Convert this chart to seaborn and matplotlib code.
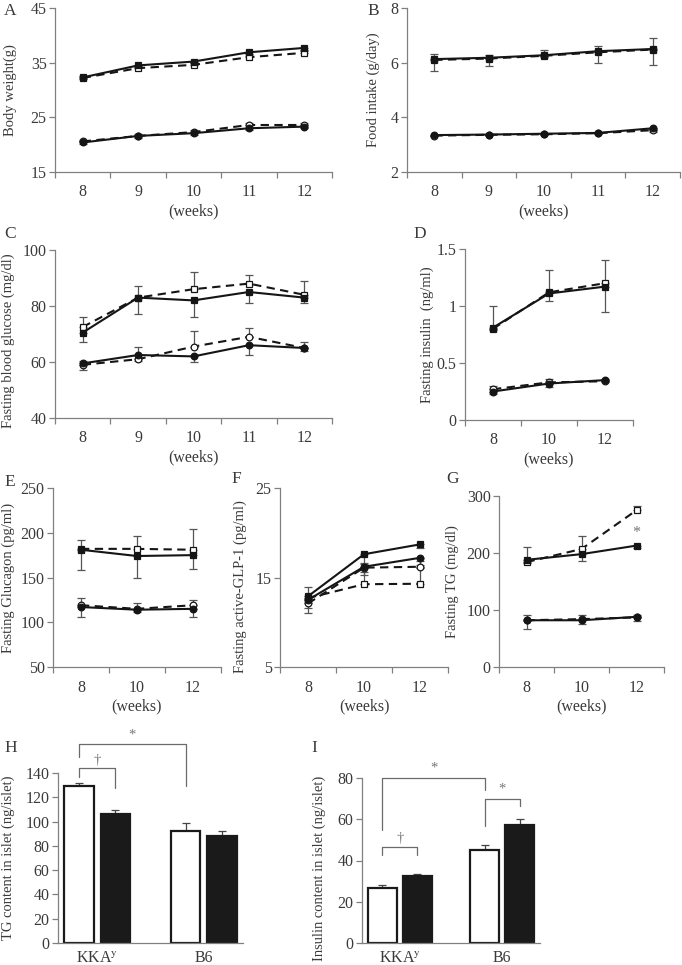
import numpy as np
import pandas as pd
import matplotlib
matplotlib.use('Agg')
import matplotlib.pyplot as plt
from matplotlib.container import BarContainer
import seaborn as sns

# ---- data ----
weeks5 = [8, 9, 10, 11, 12]
weeks3 = [8, 10, 12]

# A body weight (g)
bw_sq_open = [32.2, 34.0, 34.6, 36.0, 36.8]
bw_sq_fill = [32.3, 34.5, 35.2, 36.9, 37.7]
bw_ci_open = [20.6, 21.6, 22.3, 23.6, 23.6]
bw_ci_fill = [20.4, 21.6, 22.1, 23.0, 23.3]
bw_err = [0.3, 0.3, 0.3, 0.3, 0.3]

# B food intake (g/day)
fi_sq_open = [6.10, 6.15, 6.25, 6.38, 6.48]
fi_sq_fill = [6.13, 6.18, 6.27, 6.42, 6.50]
fi_ci_open = [3.33, 3.36, 3.38, 3.42, 3.53]
fi_ci_fill = [3.35, 3.37, 3.40, 3.43, 3.60]
fi_sq_open_err = [0.22, 0.12, 0.2, 0.22, 0.42]
fi_sq_fill_err = [0.42, 0.3, 0.08, 0.45, 0.6]
fi_ci_open_err = [0.03, 0.03, 0.03, 0.03, 0.03]
fi_ci_fill_err = [0.03, 0.03, 0.03, 0.03, 0.15]

# C fasting blood glucose (mg/dl)
bg_sq_open = [72.5, 83, 86, 88, 84]
bg_sq_fill = [70.5, 83, 82, 85, 83]
bg_ci_open = [59, 61, 65.5, 69, 65]
bg_ci_fill = [59.5, 62.5, 62, 66, 65]
bg_sq_open_err = [3.5, 4, 6, 3, 4.8]
bg_sq_fill_err = [3.5, 6, 6, 4, 2]
bg_ci_open_err = [1.5, 4.5, 5.5, 3.2, 2]
bg_ci_fill_err = [2.5, 2, 2, 3.5, 1]

# D fasting insulin (ng/ml)
ins_sq_open = [0.80, 1.12, 1.20]
ins_sq_fill = [0.81, 1.11, 1.17]
ins_ci_open = [0.27, 0.33, 0.34]
ins_ci_fill = [0.25, 0.32, 0.35]
ins_sq_open_err = [0.2, 0.2, 0.2]
ins_sq_fill_err = [0.02, 0.07, 0.22]
ins_ci_open_err = [0.03, 0.03, 0.02]
ins_ci_fill_err = [0.02, 0.03, 0.02]

# E fasting glucagon (pg/ml)
gcg_sq_open = [182, 182, 181]
gcg_sq_fill = [181, 174, 175]
gcg_ci_open = [119, 115, 119]
gcg_ci_fill = [117, 114, 115]
gcg_sq_open_err = [10, 14, 23]
gcg_sq_fill_err = [23, 24, 15]
gcg_ci_open_err = [8, 7, 6]
gcg_ci_fill_err = [11, 2, 9]

# F fasting active GLP-1 (pg/ml)
glp_sq_open = [12.7, 14.25, 14.3]
glp_sq_fill = [12.9, 17.6, 18.7]
glp_ci_open = [12.1, 16.1, 16.2]
glp_ci_fill = [12.5, 16.2, 17.2]
glp_sq_open_err = [1.2, 1.4, 1.8]
glp_sq_fill_err = [1.9, 1.1, 0.4]
glp_ci_open_err = [0.5, 0.5, 0.6]
glp_ci_fill_err = [0.9, 0.9, 0.8]

# G fasting TG (mg/dl)
tg_sq_open = [184, 207, 275]
tg_sq_fill = [188, 198, 213]
tg_ci_open = [82, 84, 87]
tg_ci_fill = [82, 82, 88]
tg_sq_open_err = [27, 23, 8]
tg_sq_fill_err = [5, 12, 5]
tg_ci_open_err = [9, 7, 5]
tg_ci_fill_err = [15, 7, 7]

# H / I islet content
groups = ['KKA$^{\\rm y}$', 'B6']
trt = ['open', 'filled']
tg_islet = [129, 106, 92, 88.5]
tg_islet_err = [3, 3.5, 7, 4]
ins_islet = [26.5, 32.3, 45.2, 57]
ins_islet_err = [1.5, 1.2, 2.2, 3]

# bracket heights (data units): horizontal, left leg end, right leg end
h_star = [164, 153, 129]
h_dag = [144, 136.5, 128]
i_star_big = [80, 54.8, 74]
i_star_small = [70, 56.5, 66.4]
i_dag = [46.7, 42.6, 42.6]

# ---- style ----
sns.set_style('ticks')
plt.rcParams['font.family'] = ['Liberation Serif', 'DejaVu Serif']
plt.rcParams['mathtext.fontset'] = 'stix'
FS = 11.5
LFS = 10.5
TXT = '#3a3a3a'
SP = '#808080'
INK = '#151515'
ECOL = '#555555'

W, H = 682, 965
fig = plt.figure(figsize=(W / 100, H / 100), dpi=100)


def box(l, t, r, b):
    return fig.add_axes([l / W, 1 - b / H, (r - l) / W, (b - t) / H])


def base_style(ax, ylabel, label_x_px, l, r, ypos=0.5):
    for s in ['top', 'right']:
        ax.spines[s].set_visible(False)
    for s in ['left', 'bottom']:
        ax.spines[s].set_color(SP)
        ax.spines[s].set_linewidth(0.9)
    ax.tick_params(axis='both', which='major', color=SP, width=0.9, length=4,
                   labelsize=FS, labelcolor=TXT, direction='out')
    ax.tick_params(axis='y', pad=2)
    ax.set_ylabel(ylabel, fontsize=LFS, color=TXT)
    ax.yaxis.set_label_coords((label_x_px + 7 - l) / (r - l), ypos)


def line_panel(pos, x, series, ylim, yticks, ylabel, label_x_px, ytick_fmt=None, ypos=0.5):
    l, t, r, b = pos
    ax = box(l, t, r, b)
    step = x[1] - x[0]
    for vals, err, mk, filled in series:
        err = np.array(err)
        zero = np.zeros_like(err)
        yerr = [err, zero] if filled else [zero, err]
        ax.errorbar(x, vals, yerr=yerr, fmt='none', ecolor=ECOL,
                    elinewidth=0.9, capsize=3.2, capthick=0.9, zorder=1)
    for vals, err, mk, filled in series:
        sns.lineplot(x=x, y=vals, ax=ax, color=INK,
                     linestyle='-' if filled else (0, (4, 2.6)),
                     linewidth=1.5, marker=mk, markersize=5 if mk == 's' else 4.8,
                     markerfacecolor=INK if filled else 'white',
                     markeredgecolor=INK, markeredgewidth=0.9,
                     zorder=3 if filled else 2)
    ax.set_ylim(*ylim)
    ax.set_yticks(yticks)
    if ytick_fmt:
        ax.set_yticklabels(ytick_fmt)
    lo, hi = x[0] - step / 2, x[-1] + step / 2
    ax.set_xlim(lo, hi)
    ax.set_xticks(list(np.arange(lo, hi + step / 2, step)))
    ax.set_xticklabels([])
    ax.set_xticks(x, minor=True)
    ax.set_xticklabels([str(v) for v in x], minor=True)
    base_style(ax, ylabel, label_x_px, l, r, ypos)
    ax.tick_params(axis='x', which='minor', length=0, pad=9,
                   labelsize=FS, labelcolor=TXT)
    ax.set_xlabel('(weeks)', fontsize=FS, color=TXT, labelpad=2)
    return ax


# A
line_panel((55, 8, 332, 172), weeks5,
           [(bw_sq_open, bw_err, 's', False), (bw_ci_open, bw_err, 'o', False),
            (bw_sq_fill, bw_err, 's', True), (bw_ci_fill, bw_err, 'o', True)],
           (15, 45), [15, 25, 35, 45], 'Body weight(g)', 10)
# B
line_panel((407, 8, 680, 172), weeks5,
           [(fi_sq_open, fi_sq_open_err, 's', False), (fi_ci_open, fi_ci_open_err, 'o', False),
            (fi_sq_fill, fi_sq_fill_err, 's', True), (fi_ci_fill, fi_ci_fill_err, 'o', True)],
           (2, 8), [2, 4, 6, 8], 'Food intake (g/day)', 373)
# C
line_panel((55, 250, 332, 418), weeks5,
           [(bg_sq_open, bg_sq_open_err, 's', False), (bg_ci_open, bg_ci_open_err, 'o', False),
            (bg_sq_fill, bg_sq_fill_err, 's', True), (bg_ci_fill, bg_ci_fill_err, 'o', True)],
           (40, 100), [40, 60, 80, 100], 'Fasting blood glucose (mg/dl)', 8, ypos=0.46)
# D
line_panel((465, 249, 633, 420), weeks3,
           [(ins_sq_open, ins_sq_open_err, 's', False), (ins_ci_open, ins_ci_open_err, 'o', False),
            (ins_sq_fill, ins_sq_fill_err, 's', True), (ins_ci_fill, ins_ci_fill_err, 'o', True)],
           (0, 1.5), [0, 0.5, 1, 1.5], 'Fasting insulin  (ng/ml)', 427,
           ytick_fmt=['0', '0.5', '1', '1.5'])
# E
line_panel((53, 488, 221, 667), weeks3,
           [(gcg_sq_open, gcg_sq_open_err, 's', False), (gcg_ci_open, gcg_ci_open_err, 'o', False),
            (gcg_sq_fill, gcg_sq_fill_err, 's', True), (gcg_ci_fill, gcg_ci_fill_err, 'o', True)],
           (50, 250), [50, 100, 150, 200, 250], 'Fasting Glucagon (pg/ml)', 8)
# F
line_panel((280, 488, 448, 667), weeks3,
           [(glp_sq_open, glp_sq_open_err, 's', False), (glp_ci_open, glp_ci_open_err, 'o', False),
            (glp_sq_fill, glp_sq_fill_err, 's', True), (glp_ci_fill, glp_ci_fill_err, 'o', True)],
           (5, 25), [5, 15, 25], 'Fasting active-GLP-1 (pg/ml)', 240, ypos=0.45)
# G
axG = line_panel((499, 496, 664, 667), weeks3,
                 [(tg_sq_open, tg_sq_open_err, 's', False), (tg_ci_open, tg_ci_open_err, 'o', False),
                  (tg_sq_fill, tg_sq_fill_err, 's', True), (tg_ci_fill, tg_ci_fill_err, 'o', True)],
                 (0, 300), [0, 100, 200, 300], 'Fasting TG (mg/dl)', 452)
axG.text(weeks3[-1], tg_sq_fill[-1] + 8, '*', ha='center', va='bottom',
         fontsize=FS, color='#777777')


def bracket(ax, x0, x1, hs, mark):
    top, y0, y1 = hs
    ax.plot([x0, x0, x1, x1], [y0, top, top, y1], color='#6a6a6a',
            linewidth=0.9, clip_on=False, zorder=4)
    ax.text((x0 + x1) / 2, top + (1.5 if mark == '*' else 0.8), mark,
            ha='center', va='bottom', fontsize=FS - 1, color='#777777')


def bar_panel(pos, vals, errs, ylim, yticks, ylabel, label_x_px, ypos=0.5):
    l, t, r, b = pos
    ax = box(l, t, r, b)
    df = pd.DataFrame({
        'group': [groups[0], groups[0], groups[1], groups[1]],
        'trt': [trt[0], trt[1], trt[0], trt[1]],
        'value': vals,
    })
    sns.barplot(data=df, x='group', y='value', hue='trt', hue_order=trt,
                palette={'open': 'white', 'filled': '#1a1a1a'}, ax=ax,
                edgecolor='#1a1a1a', linewidth=1.6, width=0.68, gap=0.18,
                errorbar=None, legend=False, zorder=2)
    bars = [c for c in ax.containers if isinstance(c, BarContainer)]
    centers = {}
    for k, cont in enumerate(bars):
        for j, p in enumerate(cont.patches):
            cx = p.get_x() + p.get_width() / 2
            idx = j * 2 + k
            centers[idx] = cx
    for idx in range(4):
        ax.errorbar([centers[idx]], [vals[idx]], yerr=[[0], [errs[idx]]], fmt='none',
                    ecolor='#444444', elinewidth=0.9, capsize=3.2,
                    capthick=0.9, zorder=1)
    ax.set_ylim(*ylim)
    ax.set_yticks(yticks)
    ax.set_xlim(centers[0] - 0.2, centers[3] + 0.2)
    base_style(ax, ylabel, label_x_px, l, r, ypos)
    ax.tick_params(axis='x', length=0, pad=5)
    ax.set_xlabel('')
    return ax, centers


axH, cH = bar_panel((58, 773, 243, 943), tg_islet, tg_islet_err, (0, 140),
                    list(range(0, 141, 20)), 'TG content in islet (ng/islet)', 8)
bracket(axH, cH[0], cH[2], h_star, '*')
bracket(axH, cH[0], cH[1], h_dag, '\u2020')

axI, cI = bar_panel((362, 778, 540, 943), ins_islet, ins_islet_err, (0, 80),
                    list(range(0, 81, 20)), 'Insulin content in islet (ng/islet)', 319,
                    ypos=0.45)
bracket(axI, cI[0], cI[2], i_star_big, '*')
bracket(axI, cI[2], cI[3], i_star_small, '*')
bracket(axI, cI[0], cI[1], i_dag, '\u2020')

# panel letters
for letter, (px, py) in {'A': (4, 3), 'B': (367, 3), 'C': (4, 226), 'D': (413, 226),
                         'E': (4, 474), 'F': (231, 471), 'G': (446, 471),
                         'H': (4, 740), 'I': (311, 740)}.items():
    fig.text(px / W, 1 - py / H, letter, ha='left', va='top', fontsize=FS + 1, color=TXT)

fig.savefig('out.png', dpi=100)
